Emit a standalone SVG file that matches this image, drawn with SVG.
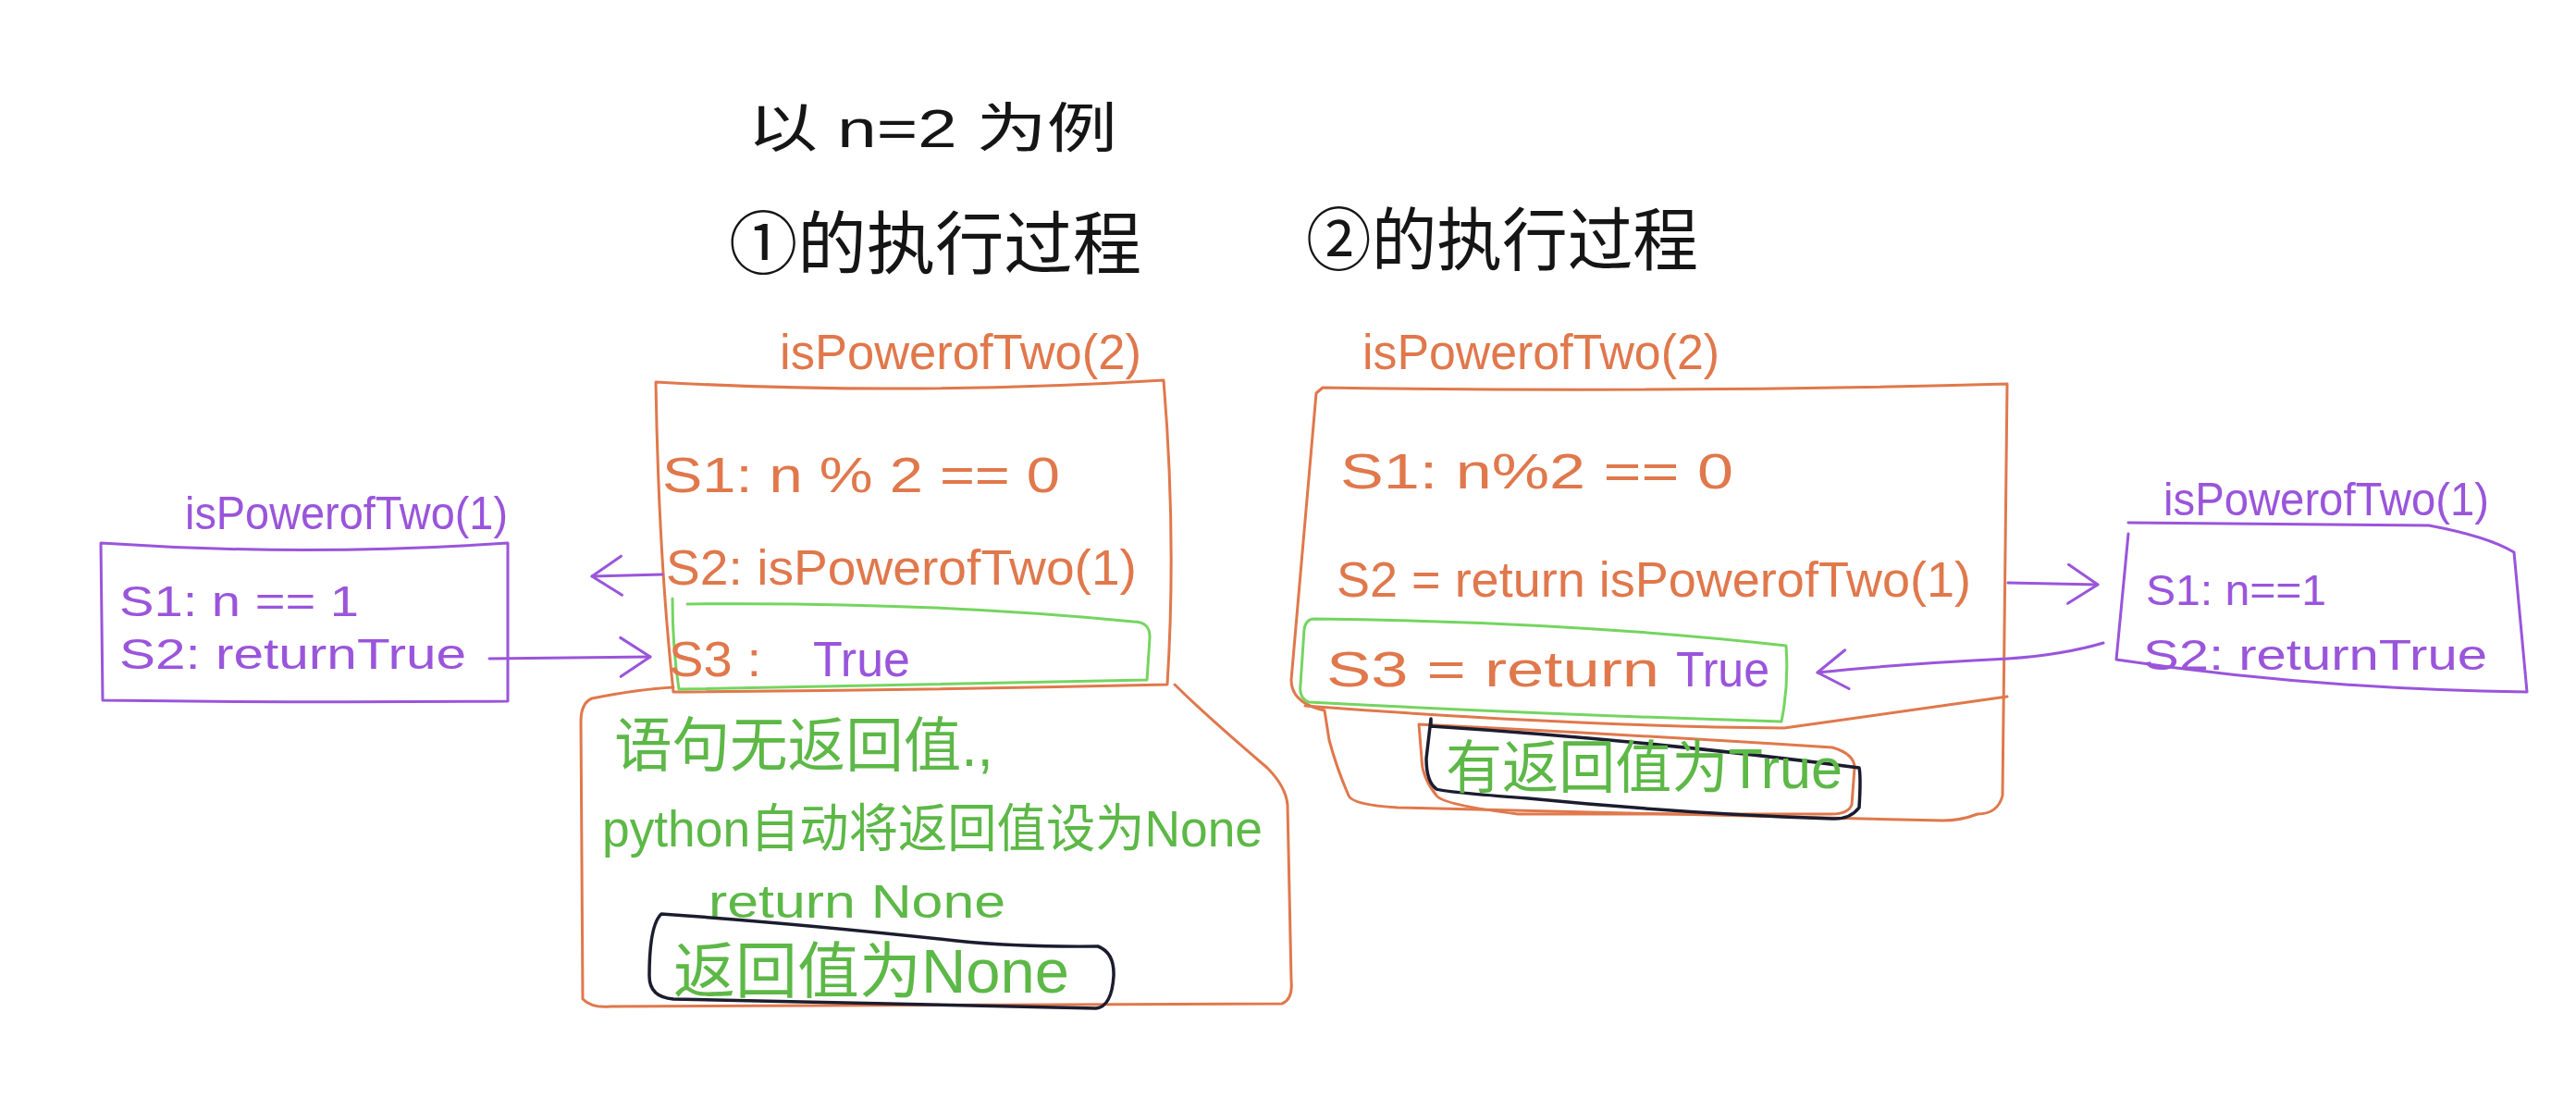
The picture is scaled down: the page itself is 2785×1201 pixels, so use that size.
<svg xmlns="http://www.w3.org/2000/svg" width="2785" height="1201" viewBox="0 0 2785 1201">
<style>
.o{fill:none;stroke:#E0784C;stroke-width:3;stroke-linecap:round;stroke-linejoin:round}
.p{fill:none;stroke:#9A55DB;stroke-width:3;stroke-linecap:round;stroke-linejoin:round}
.g{fill:none;stroke:#74D560;stroke-width:3;stroke-linecap:round;stroke-linejoin:round}
.k{fill:none;stroke:#1C1C30;stroke-width:3.5;stroke-linecap:round;stroke-linejoin:round}
text{font-family:"Liberation Sans","Noto Sans CJK SC",sans-serif;dominant-baseline:central}
.to{fill:#E0784C}.tp{fill:#9A55DB}.tg{fill:#5DB847}.tk{fill:#151515}
</style>
<defs>
<marker id="ah" markerUnits="userSpaceOnUse" markerWidth="40" markerHeight="50" viewBox="0 0 40 50" refX="36" refY="25" orient="auto">
<path d="M4,4 L36,25 L4,46" fill="none" stroke="#9A55DB" stroke-width="3" stroke-linecap="round" stroke-linejoin="round"/>
</marker>
</defs>
<rect width="2785" height="1201" fill="#fff"/>

<g id="headings">
<text class="tk" x="808" y="138" font-size="58" textLength="400" lengthAdjust="spacingAndGlyphs">以 n=2 为例</text>
<text class="tk" x="788" y="264" font-size="74" textLength="446" lengthAdjust="spacingAndGlyphs">①的执行过程</text>
<text class="tk" x="1412" y="260" font-size="74" textLength="424" lengthAdjust="spacingAndGlyphs">②的执行过程</text>
</g>

<g id="frame1">
<text class="to" x="843" y="380" font-size="54" textLength="391" lengthAdjust="spacingAndGlyphs">isPowerofTwo(2)</text>
<path class="o" d="M709,413 Q980,428 1258,411 Q1272,580 1262,740 Q1000,746 728,748 Q712,600 709,413 Z"/>
<text class="to" x="716" y="513" font-size="54" textLength="430" lengthAdjust="spacingAndGlyphs">S1:   n % 2 == 0</text>
<text class="to" x="720" y="613" font-size="54" textLength="509" lengthAdjust="spacingAndGlyphs">S2:  isPowerofTwo(1)</text>
<path class="g" d="M743,653 Q1000,650 1225,672 Q1244,672 1243,690 L1240,735 Q980,740 734,745 Q727,700 727,647"/>
<text class="to" x="723" y="712" font-size="54" textLength="100" lengthAdjust="spacingAndGlyphs">S3 :</text>
<text class="tp" x="879" y="712" font-size="54" textLength="105" lengthAdjust="spacingAndGlyphs">True</text>
<path class="o" d="M728,743 Q690,745 640,755 Q628,760 628,780 L630,1080 Q640,1090 660,1088 L1386,1085 Q1398,1080 1396,1060 L1392,870 Q1390,850 1370,830 Q1300,770 1270,740"/>
<text class="tg" x="664" y="806" font-size="64" textLength="410" lengthAdjust="spacingAndGlyphs">语句无返回值.,</text>
<text class="tg" x="651" y="895" font-size="56" textLength="714" lengthAdjust="spacingAndGlyphs">python自动将返回值设为None</text>
<text class="tg" x="766" y="975" font-size="50" textLength="321" lengthAdjust="spacingAndGlyphs">return  None</text>
<path class="k" d="M715,988 Q860,998 1034,1017 Q1100,1024 1187,1023 Q1205,1030 1204,1055 Q1202,1088 1185,1090 Q950,1085 728,1080 Q702,1078 702,1055 Q702,1000 715,988 Z"/>
<text class="tg" x="728" y="1050" font-size="66" textLength="428" lengthAdjust="spacingAndGlyphs">返回值为None</text>
</g>

<g id="callee1">
<text class="tp" x="200" y="555" font-size="50" textLength="349" lengthAdjust="spacingAndGlyphs">isPowerofTwo(1)</text>
<path class="p" d="M109,587 Q330,602 549,587 L549,758 Q330,760 111,757 Z"/>
<text class="tp" x="129" y="650" font-size="46" textLength="259" lengthAdjust="spacingAndGlyphs">S1: n  ==  1</text>
<text class="tp" x="129" y="707" font-size="46" textLength="375" lengthAdjust="spacingAndGlyphs">S2:  returnTrue</text>
</g>

<g id="frame2">
<text class="to" x="1473" y="380" font-size="54" textLength="386" lengthAdjust="spacingAndGlyphs">isPowerofTwo(2)</text>
<path class="o" d="M1430,419 Q1800,425 2170,415 L2165,860 Q2160,880 2138,880 Q2120,887 2100,887 L1511,873 Q1462,870 1458,860 Q1445,830 1437,800 L1432,768 Q1396,760 1396,735 L1423,425 Z"/>
<path class="o" d="M1411,763 Q1700,785 1929,787 Q2050,770 2170,753"/>
<text class="to" x="1449" y="509" font-size="54" textLength="425" lengthAdjust="spacingAndGlyphs">S1:   n%2 == 0</text>
<text class="to" x="1445" y="626" font-size="54" textLength="686" lengthAdjust="spacingAndGlyphs">S2 = return isPowerofTwo(1)</text>
<path class="g" d="M1421,669 Q1700,672 1931,698 Q1934,740 1926,780 Q1660,772 1415,759 Q1404,755 1406,740 L1410,680 Q1412,669 1421,669 Z"/>
<text class="to" x="1434" y="723" font-size="54" textLength="360" lengthAdjust="spacingAndGlyphs">S3 =   return</text>
<text class="tp" x="1812" y="723" font-size="54" textLength="101" lengthAdjust="spacingAndGlyphs">True</text>
<path class="o" d="M1534,783 Q1780,795 1981,808 Q2005,815 2005,830 L2002,870 Q1998,880 1980,880 L1641,880 Q1560,870 1553,860 Q1537,840 1537,820 Z"/>
<path class="k" d="M1547,777 L1547,785 Q1780,800 2010,830 Q2012,840 2010,873 Q2000,886 1981,885 Q1825,880 1652,863 Q1560,856 1553,853 Q1542,845 1542,820 Z"/>
<text class="tg" x="1563" y="830" font-size="62" textLength="429" lengthAdjust="spacingAndGlyphs">有返回值为True</text>
</g>

<g id="callee2">
<text class="tp" x="2339" y="540" font-size="50" textLength="352" lengthAdjust="spacingAndGlyphs">isPowerofTwo(1)</text>
<path class="p" d="M2301,565 Q2460,566 2626,568 Q2690,580 2718,597 L2732,748 Q2500,745 2288,713 L2301,577"/>
<text class="tp" x="2320" y="638" font-size="46" textLength="195" lengthAdjust="spacingAndGlyphs">S1: n==1</text>
<text class="tp" x="2317" y="708" font-size="46" textLength="372" lengthAdjust="spacingAndGlyphs">S2:  returnTrue</text>
</g>

<g id="connectors">
<path class="p" d="M716,621 L640,623" marker-end="url(#ah)"/>
<path class="p" d="M529,712 L703,710" marker-end="url(#ah)"/>
<path class="p" d="M2171,630 L2268,632" marker-end="url(#ah)"/>
<path class="p" d="M2274,695 Q2230,708 2171,712 Q2050,718 1965,727" marker-end="url(#ah)"/>
</g>
</svg>
